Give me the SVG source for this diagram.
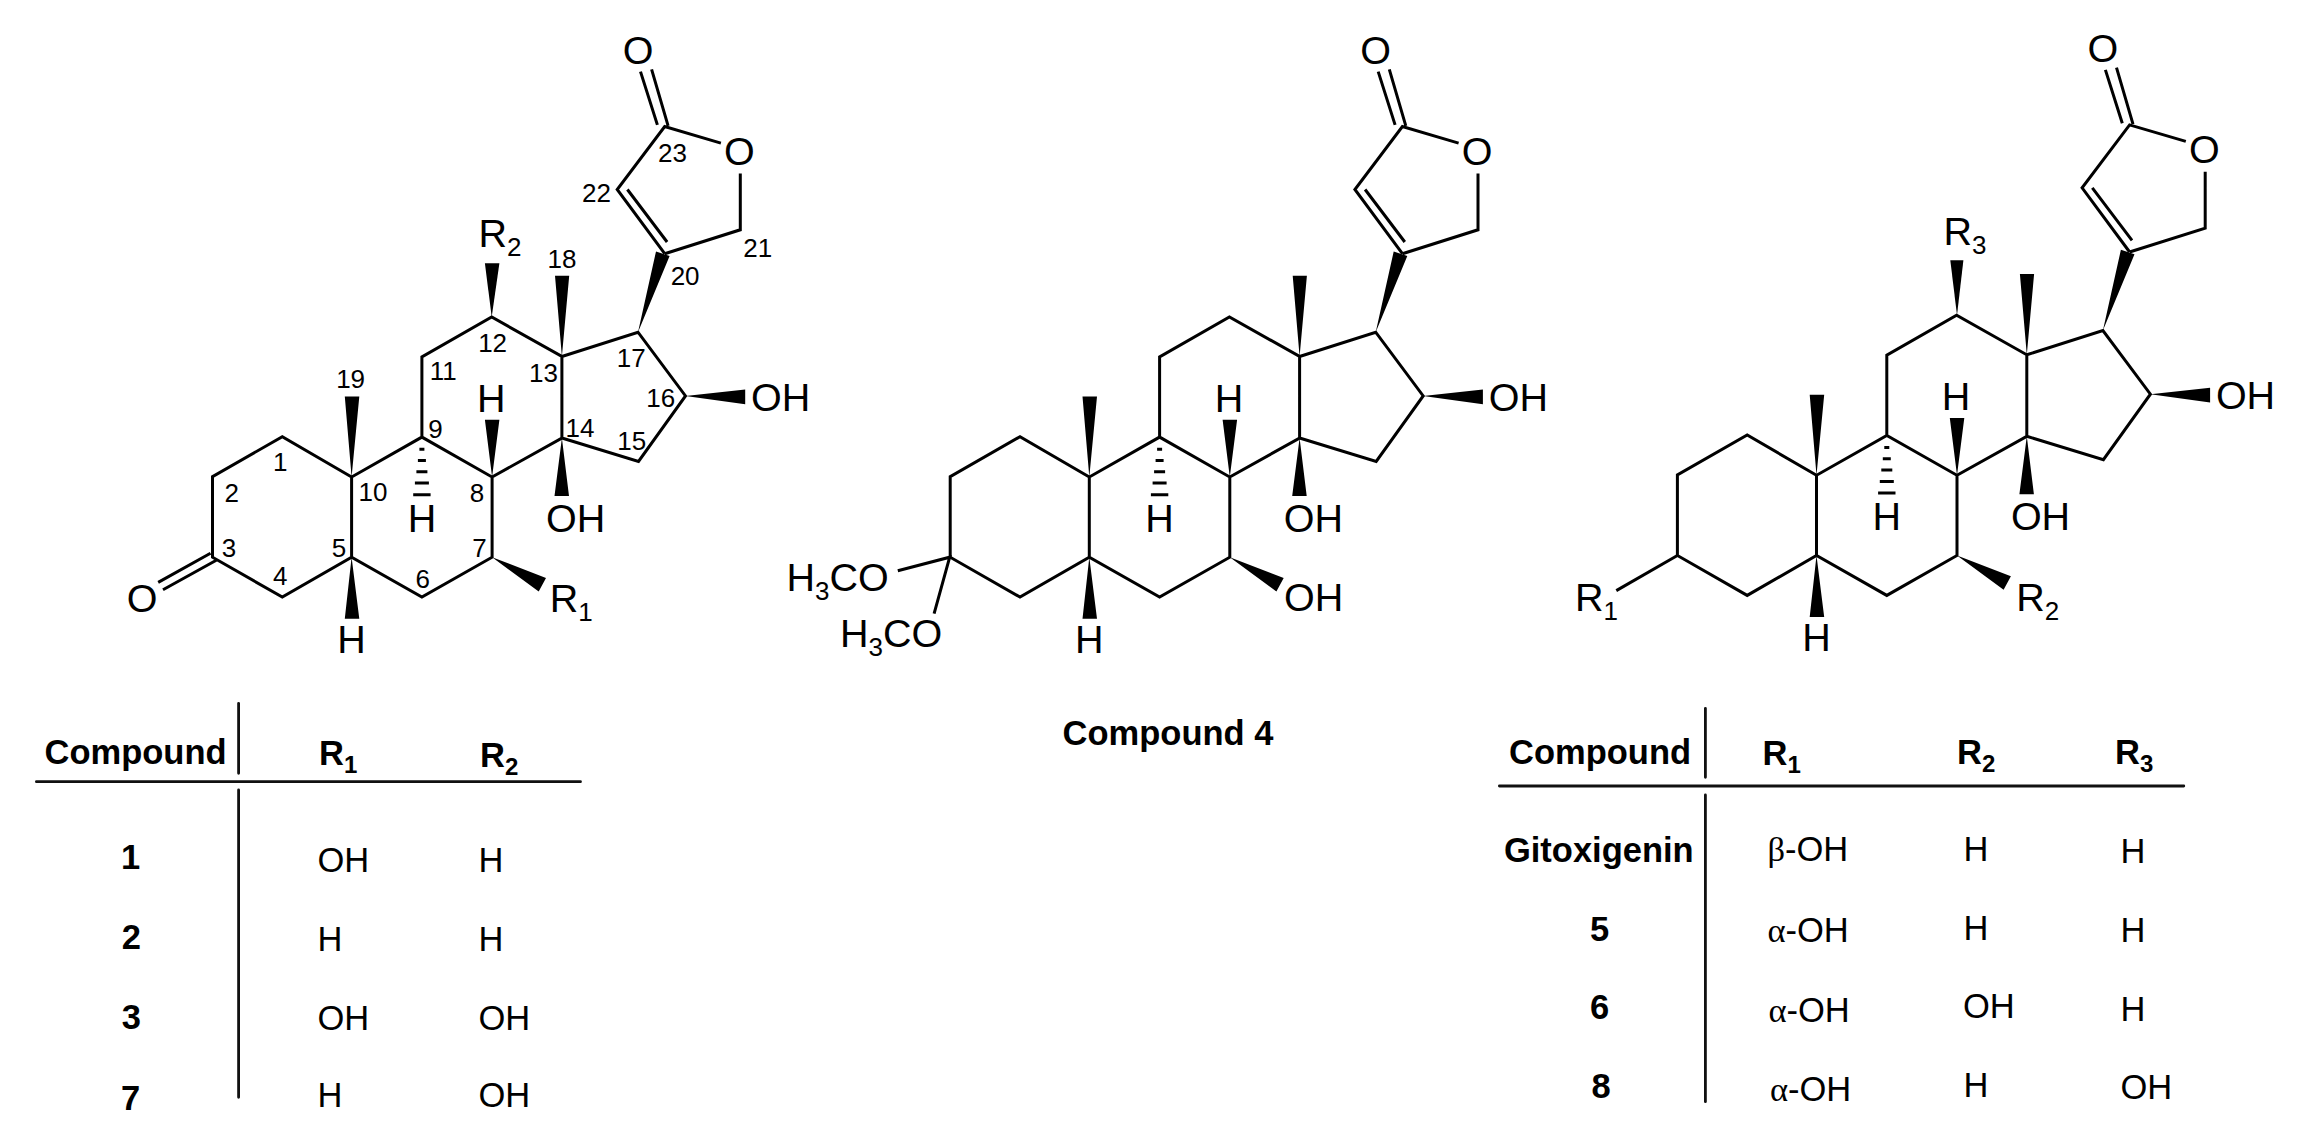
<svg xmlns="http://www.w3.org/2000/svg" xmlns:xlink="http://www.w3.org/1999/xlink" width="2307" height="1141" viewBox="0 0 2307 1141">
<style>
text{font-family:"Liberation Sans",Arial,sans-serif;fill:#000}
.a{font-size:39.5px}
.m{text-anchor:middle}
.n{font-size:26px;text-anchor:middle}
.s{font-size:26px}
.t{font-size:34.5px}
.b{font-size:34.5px;font-weight:bold}
.bs{font-size:24px;font-weight:bold}
.g{font-family:"Liberation Serif","DejaVu Serif",serif}
.bond{fill:none;stroke:#000;stroke-width:3;stroke-linecap:butt;stroke-linejoin:miter}
.wedge{fill:#000;stroke:none}
.rule{fill:none;stroke:#111;stroke-width:2.8;stroke-linecap:round}
</style>
<defs>
<g id="core">
<path class="bond" d="M351.6 477L282.3 436.7 212.5 476.6V557.2L282.3 597.1 351.6 557.2 421.9 597.1 492.1 557.2V477L421.9 437.1 351.6 477V557.2M421.9 437.1V356.9L491.7 317 561.9 356.5V438L492.1 477M561.9 356.5L638 332.2 685.5 395.9 638.5 461.4 561.9 438M664.7 253.7L740.3 229.8V173.5M720.9 143.1L664.7 126.6 617.2 189.5 664.7 253.7M627.4 189.5L667.1 242M640.5 71.6L657.4 124.9M651.6 69.4L668.1 125.8"/>
<path class="wedge" d="M351.6 477L344.8 396.4H359.3ZM561.9 356.5L555 275.8H569.2ZM492.1 477L484.9 419.8H499.4ZM561.9 438L554.5 496H569ZM351.6 557.2L344.8 618.8H359.3ZM685.5 395.9L745.2 389.4V404.2ZM638 332.2L656 251.5 669.6 255.9ZM492.1 557.2L546 578 538.7 591.5Z"/>
<path class="bond" d="M419.4 449.3H424.4M417.9 460.5H425.9M416.4 471.8H427.4M414.9 483.1H428.9M413.2 494.8H430.6"/>
</g>
</defs>
<rect width="2307" height="1141" fill="#fff"/>

<g id="structure-1">
<use href="#core" xlink:href="#core"/>
<path class="bond" d="M158.2 582.4L210.5 553.3M163 589.8L216.3 560.3"/>
<path class="wedge" d="M491.7 317L484.9 263.2H499.4Z"/>
<text class="a m" x="638" y="63.7">O</text>
<text class="a m" x="739.4" y="164.5">O</text>
<text class="a" x="478.5" y="247.2">R<tspan class="s" dy="9">2</tspan></text>
<text class="a" x="751" y="410.7">OH</text>
<text class="a m" x="491.2" y="412">H</text>
<text class="a m" x="421.9" y="531.6">H</text>
<text class="a" x="546" y="531.6">OH</text>
<text class="a" x="549.8" y="612.3">R<tspan class="s" dy="9">1</tspan></text>
<text class="a m" x="142.2" y="612.3">O</text>
<text class="a m" x="351.6" y="653">H</text>
<text class="n" x="280.3" y="470.5">1</text>
<text class="n" x="231.8" y="502.2">2</text>
<text class="n" x="228.9" y="557.2">3</text>
<text class="n" x="280.3" y="584.6">4</text>
<text class="n" x="339" y="557.2">5</text>
<text class="n" x="422.8" y="588">6</text>
<text class="n" x="479.5" y="557.2">7</text>
<text class="n" x="477.1" y="501.7">8</text>
<text class="n" x="435.5" y="438">9</text>
<text class="n" x="372.9" y="500.9">10</text>
<text class="n" x="443.2" y="380.3">11</text>
<text class="n" x="492.6" y="351.7">12</text>
<text class="n" x="543.5" y="381.6">13</text>
<text class="n" x="580" y="436.5">14</text>
<text class="n" x="631.8" y="450">15</text>
<text class="n" x="660.8" y="406.8">16</text>
<text class="n" x="631.3" y="366.9">17</text>
<text class="n" x="561.9" y="268">18</text>
<text class="n" x="350.6" y="388.1">19</text>
<text class="n" x="685.1" y="284.5">20</text>
<text class="n" x="757.8" y="256.7">21</text>
<text class="n" x="596.4" y="201.6">22</text>
<text class="n" x="672.5" y="161.8">23</text>
</g>

<g id="structure-4">
<use href="#core" xlink:href="#core" x="737.7"/>
<path class="bond" d="M897.8 570.7L949.7 557.2 934.1 613.6"/>
<text class="a m" x="1375.7" y="63.7">O</text>
<text class="a m" x="1477.1" y="164.5">O</text>
<text class="a" x="1488.7" y="410.7">OH</text>
<text class="a m" x="1228.9" y="412">H</text>
<text class="a m" x="1159.6" y="531.6">H</text>
<text class="a" x="1283.7" y="531.6">OH</text>
<text class="a" x="1284.1" y="611.4">OH</text>
<text class="a m" x="1089.3" y="653">H</text>
<text class="a" x="786.5" y="590.6">H<tspan class="s" dy="9">3</tspan><tspan dy="-9">CO</tspan></text>
<text class="a" x="840" y="647">H<tspan class="s" dy="9">3</tspan><tspan dy="-9">CO</tspan></text>
<text class="b m" id="caption-4" x="1168" y="744.5">Compound 4</text>
</g>

<g id="structure-gitoxigenin">
<use href="#core" xlink:href="#core" x="1464.9" y="-1.7"/>
<path class="bond" d="M1616.3 590.6L1677.4 555.5"/>
<path class="wedge" d="M1957 315.3L1950.3 260.2H1963.4Z"/>
<text class="a m" x="2102.9" y="62">O</text>
<text class="a m" x="2204.3" y="162.8">O</text>
<text class="a" x="1943.5" y="245">R<tspan class="s" dy="9">3</tspan></text>
<text class="a" x="2215.9" y="409">OH</text>
<text class="a m" x="1956.1" y="410.3">H</text>
<text class="a m" x="1886.8" y="529.9">H</text>
<text class="a" x="2010.9" y="529.9">OH</text>
<text class="a" x="2016.2" y="611.4">R<tspan class="s" dy="9">2</tspan></text>
<text class="a" x="1575" y="610.6">R<tspan class="s" dy="9">1</tspan></text>
<text class="a m" x="1816.5" y="651.3">H</text>
</g>

<g id="table-1">
<path class="rule" d="M238.6 703.3V773.3M238.6 790V1097.3M36.4 781.7H580.5"/>
<text class="b" x="44.5" y="764">Compound</text>
<text class="b" x="319" y="764.5">R<tspan class="bs" dy="8">1</tspan></text>
<text class="b" x="480" y="766.5">R<tspan class="bs" dy="8">2</tspan></text>
<text class="b m" x="130.5" y="869">1</text>
<text class="b m" x="131.3" y="949">2</text>
<text class="b m" x="131.3" y="1029">3</text>
<text class="b m" x="130.5" y="1110">7</text>
<text class="t" x="317.5" y="872">OH</text>
<text class="t" x="317.5" y="951">H</text>
<text class="t" x="317.5" y="1029.5">OH</text>
<text class="t" x="317.5" y="1107">H</text>
<text class="t" x="478.5" y="872">H</text>
<text class="t" x="478.5" y="951">H</text>
<text class="t" x="478.5" y="1029.5">OH</text>
<text class="t" x="478.5" y="1107">OH</text>
</g>

<g id="table-2">
<path class="rule" d="M1705.4 708.3V777.3M1705.4 795V1101.7M1499.4 786H2183.8"/>
<text class="b" x="1509" y="763.5">Compound</text>
<text class="b" x="1762.5" y="764.5">R<tspan class="bs" dy="8">1</tspan></text>
<text class="b" x="1957" y="763.5">R<tspan class="bs" dy="8">2</tspan></text>
<text class="b" x="2115" y="763.5">R<tspan class="bs" dy="8">3</tspan></text>
<text class="b m" x="1598.8" y="861.5">Gitoxigenin</text>
<text class="b m" x="1599.7" y="941">5</text>
<text class="b m" x="1599.7" y="1019">6</text>
<text class="b m" x="1601.2" y="1098">8</text>
<text class="t" x="1767.4" y="860.5"><tspan class="g">β</tspan>-OH</text>
<text class="t" x="1767.4" y="942"><tspan class="g">α</tspan>-OH</text>
<text class="t" x="1768.4" y="1022"><tspan class="g">α</tspan>-OH</text>
<text class="t" x="1769.9" y="1100.5"><tspan class="g">α</tspan>-OH</text>
<text class="t" x="1963.5" y="861">H</text>
<text class="t" x="1963.5" y="939.5">H</text>
<text class="t" x="1963" y="1017.5">OH</text>
<text class="t" x="1963.5" y="1096.5">H</text>
<text class="t" x="2120.5" y="863">H</text>
<text class="t" x="2120.5" y="942">H</text>
<text class="t" x="2120.5" y="1020.5">H</text>
<text class="t" x="2120.5" y="1098.5">OH</text>
</g>
</svg>
